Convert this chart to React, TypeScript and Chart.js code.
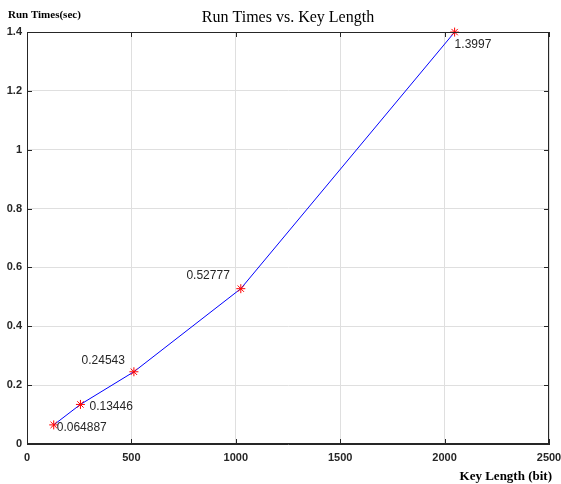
import React, { useEffect, useRef } from "react";
import { Chart, registerables } from "chart.js";

Chart.register(...registerables);

const keyLengths = [128, 256, 512, 1024, 2048];
const runTimes = [0.064887, 0.13446, 0.24543, 0.52777, 1.3997];
const pointLabels = ["0.064887", "0.13446", "0.24543", "0.52777", "1.3997"];
const xTicks = [0, 500, 1000, 1500, 2000, 2500];
const yTicks = [0, 0.2, 0.4, 0.6, 0.8, 1, 1.2, 1.4];

// label placement: [dx, dy, align]
const labelOffsets: [number, number, CanvasTextAlign][] = [
  [3, 3, "left"],
  [9, 2, "left"],
  [-9, -11, "right"],
  [-11, -13, "right"],
  [0, 13, "left"],
];

const decorPlugin = {
  id: "decor",
  afterDraw(chart: any) {
    const { ctx, chartArea } = chart;
    const { left, right, top, bottom } = chartArea;
    const xs = chart.scales.x;
    const ys = chart.scales.y;
    ctx.save();
    ctx.strokeStyle = "#262626";
    ctx.lineWidth = 1;
    ctx.strokeRect(left + 0.5, top + 0.5, right - left - 1, bottom - top - 1);
    ctx.beginPath();
    xTicks.forEach((v) => {
      const px = Math.round(xs.getPixelForValue(v)) + 0.5;
      ctx.moveTo(px, bottom);
      ctx.lineTo(px, bottom - 5);
      ctx.moveTo(px, top);
      ctx.lineTo(px, top + 5);
    });
    yTicks.forEach((v) => {
      const py = Math.round(ys.getPixelForValue(v)) + 0.5;
      ctx.moveTo(left, py);
      ctx.lineTo(left + 5, py);
      ctx.moveTo(right, py);
      ctx.lineTo(right - 5, py);
    });
    ctx.stroke();
    ctx.fillStyle = "#262626";
    ctx.font = "12px 'Liberation Sans', Arial, sans-serif";
    ctx.textBaseline = "middle";
    runTimes.forEach((v, i) => {
      const px = xs.getPixelForValue(keyLengths[i]);
      const py = ys.getPixelForValue(v);
      const [dx, dy, al] = labelOffsets[i];
      ctx.textAlign = al;
      ctx.fillText(pointLabels[i], px + dx, py + dy);
    });
    ctx.fillStyle = "#000";
    ctx.font = "16px 'Liberation Serif', 'Times New Roman', serif";
    ctx.textAlign = "center";
    ctx.textBaseline = "middle";
    ctx.fillText("Run Times vs. Key Length", (left + right) / 2, 18);
    ctx.font = "bold 11px 'Liberation Serif', 'Times New Roman', serif";
    ctx.textAlign = "left";
    ctx.fillText("Run Times(sec)", 8, 15);
    ctx.font = "bold 13px 'Liberation Serif', 'Times New Roman', serif";
    ctx.textAlign = "right";
    ctx.fillText("Key Length (bit)", 552, 477);
    ctx.restore();
  },
};

export default function App() {
  const ref = useRef<HTMLCanvasElement>(null);
  useEffect(() => {
    if (!ref.current) return;
    const chart = new Chart(ref.current, {
      type: "line",
      data: {
        datasets: [
          {
            data: keyLengths.map((x, i) => ({ x, y: runTimes[i] })),
            borderColor: "#0000ff",
            borderWidth: 1,
            pointStyle: "star",
            pointRadius: 4.5,
            pointBorderColor: "#ff0000",
            pointBackgroundColor: "#ff0000",
            pointBorderWidth: 1,
            tension: 0,
            fill: false,
            clip: false,
          },
        ],
      },
      options: {
        animation: false,
        responsive: false,
        maintainAspectRatio: false,
        layout: { padding: { top: 32, right: 12, bottom: 0, left: 0 } },
        plugins: {
          legend: { display: false },
          tooltip: { enabled: false },
          title: { display: false },
        },
        scales: {
          x: {
            type: "linear",
            min: 0,
            max: 2500,
            afterBuildTicks: (s: any) => {
              s.ticks = xTicks.map((v) => ({ value: v }));
            },
            afterFit: (s: any) => {
              s.height = 40;
              s.paddingLeft = 0;
              s.paddingRight = 0;
            },
            ticks: {
              color: "#262626",
              font: { family: "'Liberation Sans', Arial, sans-serif", size: 11, weight: "bold" },
              padding: 7,
              maxRotation: 0,
              autoSkip: false,
              callback: (v: any) => String(v),
            },
            grid: { color: "#dfdfdf", drawTicks: false, lineWidth: 1 },
            border: { color: "#262626", width: 1 },
          },
          y: {
            type: "linear",
            min: 0,
            max: 1.4,
            afterBuildTicks: (s: any) => {
              s.ticks = yTicks.map((v) => ({ value: v }));
            },
            afterFit: (s: any) => {
              s.width = 27;
              s.paddingTop = 0;
              s.paddingBottom = 0;
            },
            ticks: {
              color: "#262626",
              font: { family: "'Liberation Sans', Arial, sans-serif", size: 11, weight: "bold" },
              padding: 5,
              autoSkip: false,
              callback: (v: any) => String(Math.round(Number(v) * 10) / 10),
            },
            grid: { color: "#dfdfdf", drawTicks: false, lineWidth: 1 },
            border: { color: "#262626", width: 1 },
          },
        },
      },
      plugins: [decorPlugin],
    });
    return () => chart.destroy();
  }, []);
  return (
    <div style={{ position: "fixed", left: 0, top: 0, width: 561, height: 484, background: "#fff" }}>
      <canvas ref={ref} width={561} height={484} style={{ width: 561, height: 484 }} />
    </div>
  );
}
